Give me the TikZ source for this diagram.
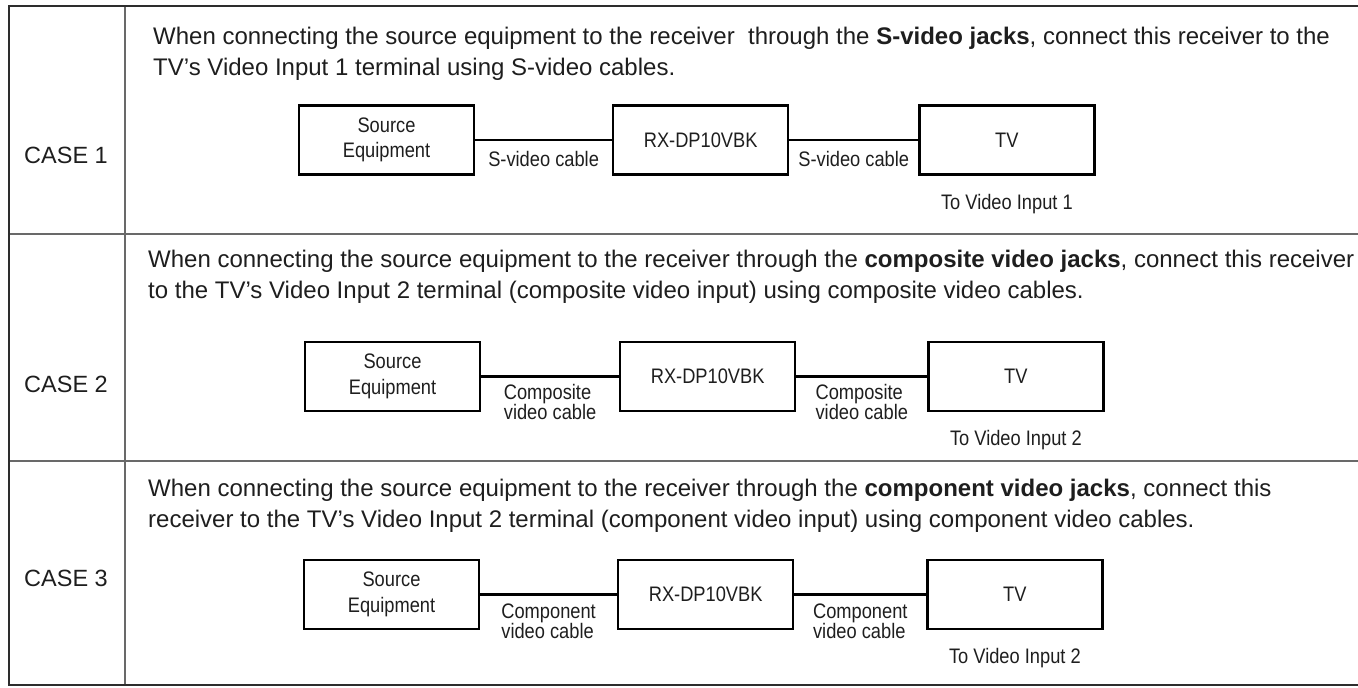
\documentclass[tikz,border=0pt]{standalone}
\usepackage{fontspec}
\setmainfont{Liberation Sans}
\newfontfamily\narrowfont[FakeStretch=0.87]{Liberation Sans}
\usetikzlibrary{positioning}
\definecolor{ink}{RGB}{30,30,30}
\definecolor{rulegray}{RGB}{105,105,105}
\definecolor{framegray}{RGB}{45,45,45}

\begin{document}
\begin{tikzpicture}[
    x=1pt, y=-1pt,
    unit/.style={draw=black, line width=2.2pt, minimum width=175pt, minimum height=69pt,
      inner sep=0pt, align=center, text=ink, font=\narrowfont\fontsize{21}{25.5}\selectfont},
    cable/.style={line width=2.2pt, black},
    tag/.style={inner sep=0pt, align=left, text=ink, font=\narrowfont\fontsize{21}{20}\selectfont},
    para/.style={anchor=north west, inner sep=0pt, align=left, text=ink, font=\fontsize{24}{31}\selectfont},
    case/.style={text=ink, font=\fontsize{23.5}{28}\selectfont},
  ]
  \useasboundingbox (0,0) rectangle (1358,688);
  % table
  \draw[rulegray, line width=1.6pt] (125,6) -- (125,685);
  \draw[rulegray, line width=1.6pt] (9,234) -- (1362,234);
  \draw[rulegray, line width=1.6pt] (9,461) -- (1362,461);
  \draw[framegray, line width=2.6pt] (1362,6) -- (9,6) -- (9,685) -- (1362,685);

  % case 1
  \node[case] (c1) at (66,155) {CASE 1};
  \node[para] (t1) at (153,26.5) {When connecting the source equipment to the receiver\ \ through the \textbf{S-video jacks}, connect this receiver to the\\TV’s Video Input 1 terminal using S-video cables.};
  \node[unit] (src1) at (386.5,140) {Source\\Equipment};
  \node[unit, right=137pt of src1] (rx1) {RX-DP10VBK};
  \node[unit, right=129pt of rx1] (tv1) {TV};
  \node[tag, below=18pt of tv1] (in1) {To Video Input 1};
  \draw[cable] (src1) -- (rx1) node[tag, midway, below=10pt] {S-video cable};
  \draw[cable] (rx1) -- (tv1) node[tag, midway, below=10pt] {S-video cable};

  % case 2
  \node[case] (c2) at (66,384) {CASE 2};
  \node[para] (t2) at (148,249.5) {When connecting the source equipment to the receiver through the \textbf{composite video jacks}, connect this receiver\\to the TV’s Video Input 2 terminal (composite video input) using composite video cables.};
  \node[unit] (src2) at (392.5,376.5) {Source\\Equipment};
  \node[unit, right=138pt of src2] (rx2) {RX-DP10VBK};
  \node[unit, right=131pt of rx2] (tv2) {TV};
  \node[tag, below=18pt of tv2] (in2) {To Video Input 2};
  \draw[cable] (src2) -- (rx2) node[tag, midway, below=7pt] {Composite\\video cable};
  \draw[cable] (rx2) -- (tv2) node[tag, midway, below=7pt] {Composite\\video cable};

  % case 3
  \node[case] (c3) at (66,578) {CASE 3};
  \node[para] (t3) at (148,478.5) {When connecting the source equipment to the receiver through the \textbf{component video jacks}, connect this\\receiver to the TV’s Video Input 2 terminal (component video input) using component video cables.};
  \node[unit] (src3) at (391.5,594.5) {Source\\Equipment};
  \node[unit, right=137pt of src3] (rx3) {RX-DP10VBK};
  \node[unit, right=132pt of rx3] (tv3) {TV};
  \node[tag, below=18pt of tv3] (in3) {To Video Input 2};
  \draw[cable] (src3) -- (rx3) node[tag, midway, below=8pt] {Component\\video cable};
  \draw[cable] (rx3) -- (tv3) node[tag, midway, below=8pt] {Component\\video cable};
\end{tikzpicture}
\end{document}
